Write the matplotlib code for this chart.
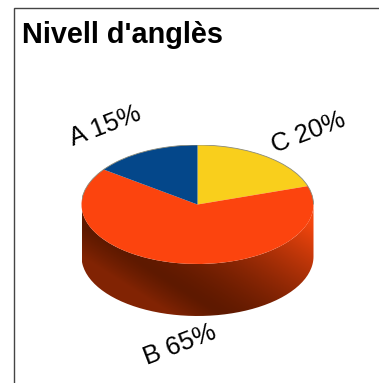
import numpy as np
import matplotlib
matplotlib.use("Agg")
import matplotlib.pyplot as plt
from matplotlib.patches import Arc, PathPatch
from matplotlib.path import Path

title = "Nivell d'anglès"
categories = ["C", "B", "A"]
shares = [20, 65, 15]
colors = ["#F9CF1C", "#FC440E", "#04478A"]

plt.rcParams['font.family'] = ['Liberation Sans', 'DejaVu Sans']

fig = plt.figure(figsize=(3.79, 3.83), dpi=100)

# page axes in pixels, y going down like the picture
bg = fig.add_axes([0, 0, 1, 1])
bg.axis("off")

# frame is only visible on top and left, rest runs off the image
bg.plot([14, 14, 379], [383, 7.5, 7.5], color="#444444", lw=1.0, solid_joinstyle="miter")

cx, cy = 197.5, 204.5
rx, ry = 116, 59.5
depth = 52

# cylinder side, gradient clipped to its outline
t = np.linspace(0, np.pi, 100)
xs = cx + rx * np.cos(t)
ys = cy + ry * np.sin(t)
verts = list(zip(xs, ys + depth)) + list(zip(xs[::-1], ys[::-1]))
side = PathPatch(Path(verts + [verts[0]]), fc="none", ec="none")
bg.add_patch(side)

# dark band runs diagonally across the side, lighter on both sides of it
X, Y = np.meshgrid(np.linspace(cx - rx, cx + rx, 240), np.linspace(cy, cy + ry + depth, 120))
s = (X - 125) * 0.538 - (Y - 253) * 0.843
amt = np.where(s > 0, np.clip(s / 125, 0, 1) ** 1.4, np.clip(-s / 90, 0, 0.3) ** 1.2)
dark = np.array([0x5E, 0x19, 0x00]) / 255
bright = np.array([0xF4, 0x46, 0x0E]) / 255
grad = dark + (bright - dark) * amt[..., None]
im = bg.imshow(grad, extent=(cx - rx, cx + rx, cy + ry + depth, cy), aspect="auto",
               interpolation="bilinear", zorder=2)
im.set_clip_path(side)
bg.set_xlim(0, 379)
bg.set_ylim(383, 0)

# pie top, a circle squashed by the axes box
pie_ax = fig.add_axes([(cx - rx) / 379, 1 - (cy + ry) / 383, 2 * rx / 379, 2 * ry / 383])
pie_ax.patch.set_alpha(0)
pie_ax.pie(shares, colors=colors, startangle=90, counterclock=False, radius=1,
           wedgeprops=dict(lw=0))
pie_ax.set_aspect("auto")
pie_ax.set_xlim(-1, 1)
pie_ax.set_ylim(-1, 1)

# thin grey rim on the back half only
pie_ax.add_patch(Arc((0, 0), 2, 2, theta1=0, theta2=180, ec="#8a8a7a", lw=0.6))

fig.text(22 / 379, 1 - 35 / 383, title, fontsize=20.8, fontweight="bold", va="center", ha="left")

pct = dict(zip(categories, shares))
fig.text(105 / 379, 1 - 126 / 383, f"A {pct['A']}%", fontsize=18.5, rotation=21, ha="center", va="center")
fig.text(308 / 379, 1 - 133 / 383, f"C {pct['C']}%", fontsize=18.5, rotation=21, ha="center", va="center")
fig.text(180 / 379, 1 - 345 / 383, f"B {pct['B']}%", fontsize=18.5, rotation=21, ha="center", va="center")

fig.savefig("out.png", dpi=100)
